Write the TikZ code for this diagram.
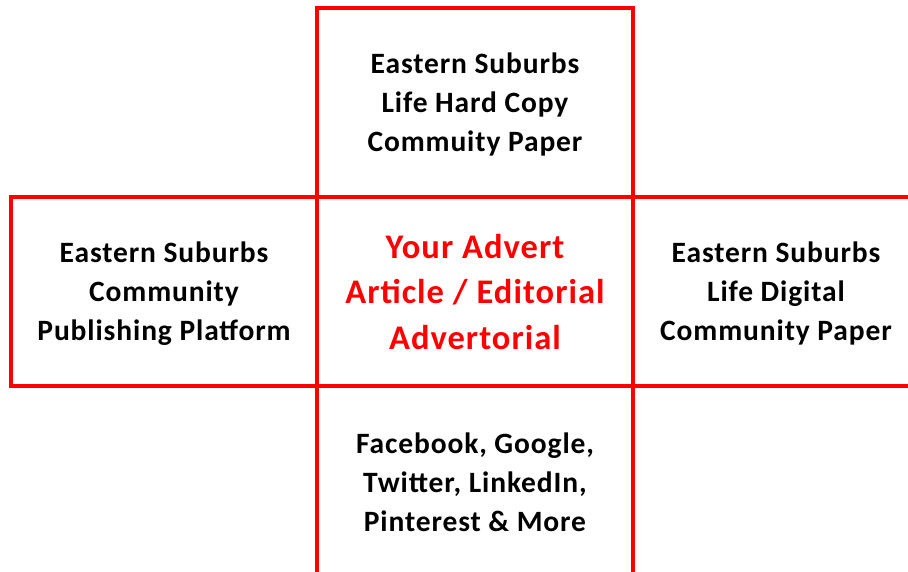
\documentclass[tikz,border=0pt]{standalone}
\usepackage{fontspec}
\setmainfont{Carlito}[LetterSpace=3]
\usetikzlibrary{positioning}

\tikzset{panel/.style={draw=red, line width=4pt, outer sep=0pt, inner sep=0pt,
    minimum width=316pt, minimum height=189pt, align=center, text depth=0pt,
    font=\bfseries\fontsize{29.5}{39}\selectfont},
  advertpanel/.style={panel, text=red, text depth=-4pt, font=\bfseries\fontsize{34.5}{45.5}\selectfont}}

\begin{document}
\begin{tikzpicture}[x=1pt,y=1pt]

        \useasboundingbox (0,0) rectangle (908,-571);

        % middle one, the advert itself
        \node [advertpanel] (advert) at (475,-291.5) {Your Advert\\Article / Editorial\\Advertorial};


        \node [panel, above=0pt of advert] (hardcopy) {Eastern Suburbs\\Life Hard Copy\\Commuity Paper};

        \node [panel, left=0pt of advert, minimum width=306pt] (platform) {Eastern Suburbs\\Community\\Publishing Platform};

        \node [panel, right=0pt of advert, minimum width=286pt] (digital) {Eastern Suburbs\\Life Digital\\Community Paper};

        \node [panel, below=0pt of advert, minimum height=192pt] (social) {Facebook, Google,\\Twitter, LinkedIn,\\Pinterest \& More};

%        \node [panel, below=0pt of social] (extra) {More};
    \end{tikzpicture}
\end{document}
